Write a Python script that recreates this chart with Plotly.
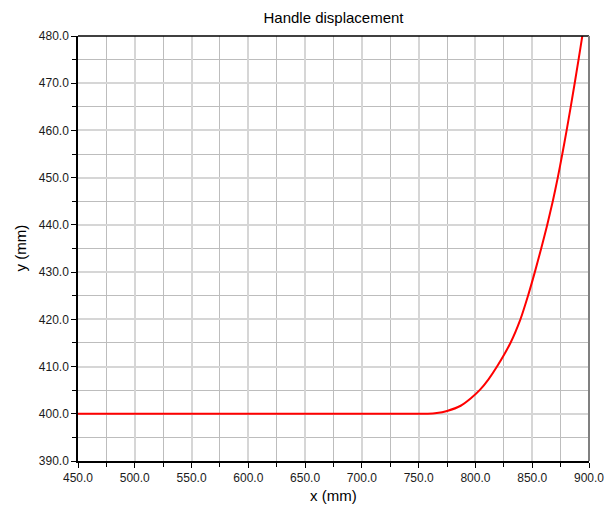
import plotly.graph_objects as go

x_mm = [450, 758, 766, 775, 787, 796, 803.7, 811.5, 819.0, 830.8, 839.6, 846.3, 852.3, 857.9,
        863.2, 868.1, 872.5, 876.5, 880.3, 883.9, 887.4, 890.8, 894.1, 897.3]
y_mm = [400, 400, 400.15, 400.6, 401.7, 403.3, 405, 407.3, 410, 415, 420, 425, 430, 435,
        440, 445, 450, 455, 460, 465, 470, 475, 480, 485]

fig = go.Figure()
fig.add_trace(go.Scatter(x=x_mm, y=y_mm, mode="lines",
                         line=dict(color="#ff0000", width=2, shape="spline", smoothing=0.6),
                         showlegend=False))

font = "Liberation Sans, Arial, sans-serif"
W, H = 612, 507
L, R, T, B = 78, 23, 36, 46
pw, ph = W - L - R, H - T - B

fig.update_layout(
    width=W, height=H,
    margin=dict(l=L, r=R, t=T, b=B),
    paper_bgcolor="white", plot_bgcolor="white",
    title=dict(text="Handle displacement", x=(L + pw / 2) / W, xanchor="center",
               y=1 - 18 / H, yanchor="middle",
               font=dict(family=font, size=15, color="#000000")),
    xaxis=dict(range=[450, 900], dtick=50, tick0=450, tickformat=".1f", automargin=False,
               showline=True, linecolor="#000000", linewidth=1.5, mirror=False,
               ticks="outside", ticklen=5, tickcolor="#000000",
               showgrid=True, gridcolor="#d6d6d6", gridwidth=1.5,
               minor=dict(dtick=25, tick0=450, showgrid=True, gridcolor="#bdbdbd", gridwidth=1,
                          ticks="outside", ticklen=4, tickcolor="#000000"),
               zeroline=False,
               tickfont=dict(family=font, size=12, color="#1a1a1a")),
    yaxis=dict(range=[390, 480], dtick=10, tick0=390, tickformat=".1f", automargin=False,
               showline=True, linecolor="#000000", linewidth=1.5,
               ticks="outside", ticklen=5, tickcolor="#000000",
               showgrid=True, gridcolor="#d6d6d6", gridwidth=1.5,
               minor=dict(dtick=5, tick0=390, showgrid=True, gridcolor="#bdbdbd", gridwidth=1,
                          ticks="outside", ticklen=4, tickcolor="#000000"),
               zeroline=False,
               tickfont=dict(family=font, size=12, color="#1a1a1a")),
    shapes=[
        dict(type="line", xref="paper", yref="paper", x0=0, x1=1, y0=1, y1=1,
             line=dict(color="#000000", width=1.5)),
        dict(type="line", xref="paper", yref="paper", x0=1, x1=1, y0=0, y1=1,
             line=dict(color="#808080", width=2)),
    ],
    annotations=[
        dict(text="x (mm)", xref="paper", yref="paper", x=0.5, y=-(495 - (H - B)) / ph,
             xanchor="center", yanchor="middle", showarrow=False,
             font=dict(family=font, size=15, color="#000000")),
        dict(text="y (mm)", xref="paper", yref="paper", x=-(L - 20) / pw, y=0.5,
             xanchor="center", yanchor="middle", showarrow=False, textangle=-90,
             font=dict(family=font, size=15, color="#000000")),
    ],
)

fig.write_html("out.html")
